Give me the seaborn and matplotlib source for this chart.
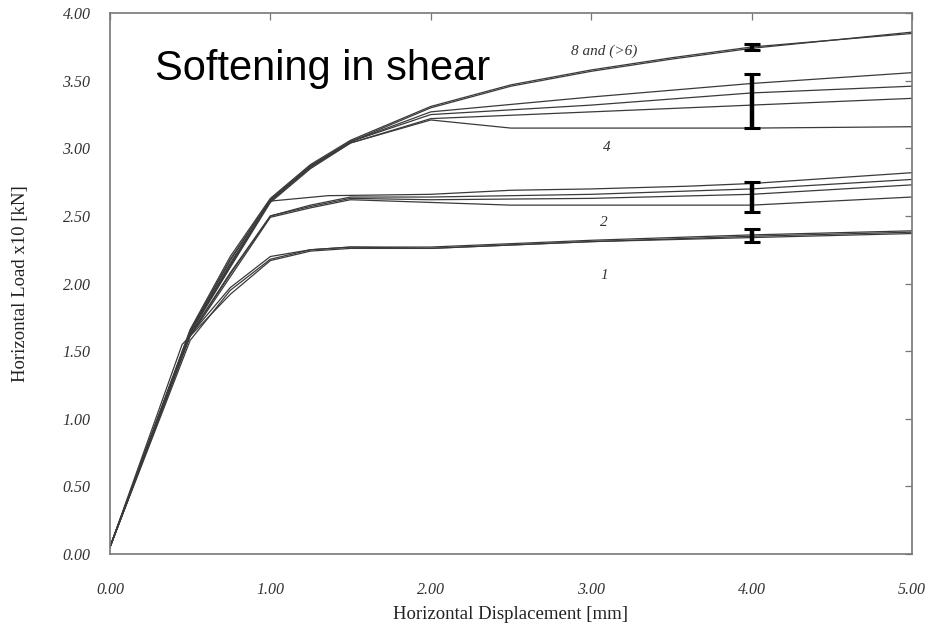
import matplotlib
matplotlib.use("Agg")
import matplotlib.pyplot as plt
import seaborn as sns
import pandas as pd
import numpy as np

# ---- data ----
curve_names = ["8a", "8b", "4a", "4b", "4c", "4d", "2a", "2b", "2c", "2d", "1a", "1b", "1c"]

x_8a = [0.0, 0.5, 0.75, 1.0, 1.25, 1.5, 2.0, 2.5, 3.0, 3.5, 4.0, 4.5, 5.0]
y_8a = [0.05, 1.66, 2.20, 2.63, 2.88, 3.06, 3.31, 3.47, 3.58, 3.67, 3.75, 3.80, 3.86]
x_8b = [0.0, 0.5, 0.75, 1.0, 1.25, 1.5, 2.0, 2.5, 3.0, 3.5, 4.0, 4.5, 5.0]
y_8b = [0.05, 1.65, 2.18, 2.62, 2.87, 3.05, 3.30, 3.46, 3.57, 3.66, 3.74, 3.80, 3.85]

x_4a = [0.0, 0.5, 0.75, 1.0, 1.25, 1.5, 2.0, 3.0, 4.0, 5.0]
y_4a = [0.05, 1.65, 2.17, 2.62, 2.87, 3.05, 3.27, 3.38, 3.48, 3.56]
x_4b = [0.0, 0.5, 0.75, 1.0, 1.25, 1.5, 2.0, 3.0, 4.0, 5.0]
y_4b = [0.05, 1.64, 2.15, 2.61, 2.86, 3.05, 3.25, 3.32, 3.41, 3.46]
x_4c = [0.0, 0.5, 0.75, 1.0, 1.25, 1.5, 2.0, 3.0, 4.0, 5.0]
y_4c = [0.05, 1.64, 2.13, 2.61, 2.86, 3.04, 3.22, 3.27, 3.32, 3.37]
x_4d = [0.0, 0.5, 0.75, 1.0, 1.25, 1.5, 2.0, 2.5, 3.0, 4.0, 5.0]
y_4d = [0.05, 1.63, 2.12, 2.60, 2.85, 3.04, 3.21, 3.15, 3.15, 3.15, 3.16]

x_2a = [0.0, 0.5, 0.75, 1.0, 1.36, 2.0, 2.5, 3.0, 3.6, 4.0, 5.0]
y_2a = [0.05, 1.64, 2.14, 2.61, 2.65, 2.66, 2.69, 2.70, 2.72, 2.74, 2.82]
x_2b = [0.0, 0.5, 0.75, 1.0, 1.25, 1.5, 2.0, 3.0, 4.0, 5.0]
y_2b = [0.05, 1.62, 2.08, 2.50, 2.58, 2.64, 2.64, 2.66, 2.70, 2.77]
x_2c = [0.0, 0.5, 0.75, 1.0, 1.25, 1.5, 2.0, 3.0, 4.0, 5.0]
y_2c = [0.05, 1.62, 2.07, 2.50, 2.57, 2.63, 2.62, 2.63, 2.66, 2.73]
x_2d = [0.0, 0.5, 0.75, 1.0, 1.25, 1.5, 2.0, 2.5, 3.0, 4.0, 5.0]
y_2d = [0.05, 1.61, 2.05, 2.49, 2.56, 2.62, 2.60, 2.58, 2.58, 2.58, 2.64]

x_1a = [0.0, 0.5, 0.75, 1.0, 1.25, 1.5, 2.0, 3.0, 4.0, 5.0]
y_1a = [0.05, 1.62, 1.97, 2.20, 2.25, 2.27, 2.26, 2.31, 2.35, 2.38]
x_1b = [0.0, 0.45, 0.75, 1.0, 1.25, 1.5, 2.0, 3.0, 4.0, 5.0]
y_1b = [0.05, 1.55, 1.92, 2.17, 2.24, 2.26, 2.26, 2.31, 2.34, 2.37]
x_1c = [0.0, 0.5, 0.75, 1.0, 1.25, 1.5, 2.0, 3.0, 4.0, 5.0]
y_1c = [0.05, 1.58, 1.95, 2.18, 2.25, 2.27, 2.27, 2.32, 2.36, 2.39]

# error bars at x = 4 (low, high)
err_x = [4.0, 4.0, 4.0, 4.0]
err_low = [3.73, 3.15, 2.53, 2.31]
err_high = [3.77, 3.55, 2.75, 2.40]

# curve annotations
label_texts = ["8 and (>6)", "4", "2", "1"]
label_x = [3.08, 3.1, 3.08, 3.08]
label_y = [3.72, 3.01, 2.45, 2.06]

x_ticks = [0, 1, 2, 3, 4, 5]
x_ticklabels = ["0.00", "1.00", "2.00", "3.00", "4.00", "5.00"]
y_ticks = [0, 0.5, 1.0, 1.5, 2.0, 2.5, 3.0, 3.5, 4.0]
y_ticklabels = ["0.00", "0.50", "1.00", "1.50", "2.00", "2.50", "3.00", "3.50", "4.00"]

title_text = "Softening in shear"
x_label = "Horizontal Displacement [mm]"
y_label = "Horizontal Load x10 [kN]"

# ---- build long table ----
xs = [x_8a, x_8b, x_4a, x_4b, x_4c, x_4d, x_2a, x_2b, x_2c, x_2d, x_1a, x_1b, x_1c]
ys = [y_8a, y_8b, y_4a, y_4b, y_4c, y_4d, y_2a, y_2b, y_2c, y_2d, y_1a, y_1b, y_1c]
rows = []
for name, xv, yv in zip(curve_names, xs, ys):
    for a, b in zip(xv, yv):
        rows.append({"curve": name, "disp": a, "load": b})
df = pd.DataFrame(rows)

sns.set_style("white")
plt.rcParams["font.family"] = ["DejaVu Sans"]

fig = plt.figure(figsize=(9.48, 6.28), dpi=100)
ax = fig.add_axes([0.116, 0.118, 0.846, 0.861])

sns.lineplot(data=df, x="disp", y="load", units="curve", estimator=None,
             color="#3a3a3a", linewidth=0.9, sort=False, ax=ax, legend=False)

# error bars
for xe, lo, hi in zip(err_x, err_low, err_high):
    ax.errorbar([xe], [(lo + hi) / 2], yerr=[[(hi - lo) / 2], [(hi - lo) / 2]],
                fmt="none", ecolor="black", elinewidth=3.2, capsize=6, capthick=2.2)

serif = ["Liberation Serif", "DejaVu Serif"]
for t, xt, yt in zip(label_texts, label_x, label_y):
    ax.text(xt, yt, t, fontsize=11, fontstyle="italic", family=serif,
            color="#333333", ha="center", va="center")

ax.text(0.28, 3.59, title_text, fontsize=30, family=["Liberation Sans", "DejaVu Sans"],
        color="black", ha="left", va="center")

ax.set_xlim(0, 5)
ax.set_ylim(0, 4)
ax.set_xticks(x_ticks)
ax.set_xticklabels(x_ticklabels)
ax.set_yticks(y_ticks)
ax.set_yticklabels(y_ticklabels)
ax.tick_params(direction="in", length=5, width=0.9, color="#777777",
               top=True, right=True, labelsize=11.5, labelcolor="#333333")
ax.tick_params(axis="x", pad=20)
ax.tick_params(axis="y", pad=14)
for lab in ax.get_xticklabels() + ax.get_yticklabels():
    lab.set_fontstyle("italic")
    lab.set_family(serif)

for s in ax.spines.values():
    s.set_color("#777777")
    s.set_linewidth(1.2)

ax.set_xlabel(x_label, fontsize=13.5, family=serif, color="#222222", labelpad=6)
ax.set_ylabel(y_label, fontsize=13.5, family=serif, color="#222222", labelpad=24)

fig.savefig("out.png", dpi=100, facecolor="white")
